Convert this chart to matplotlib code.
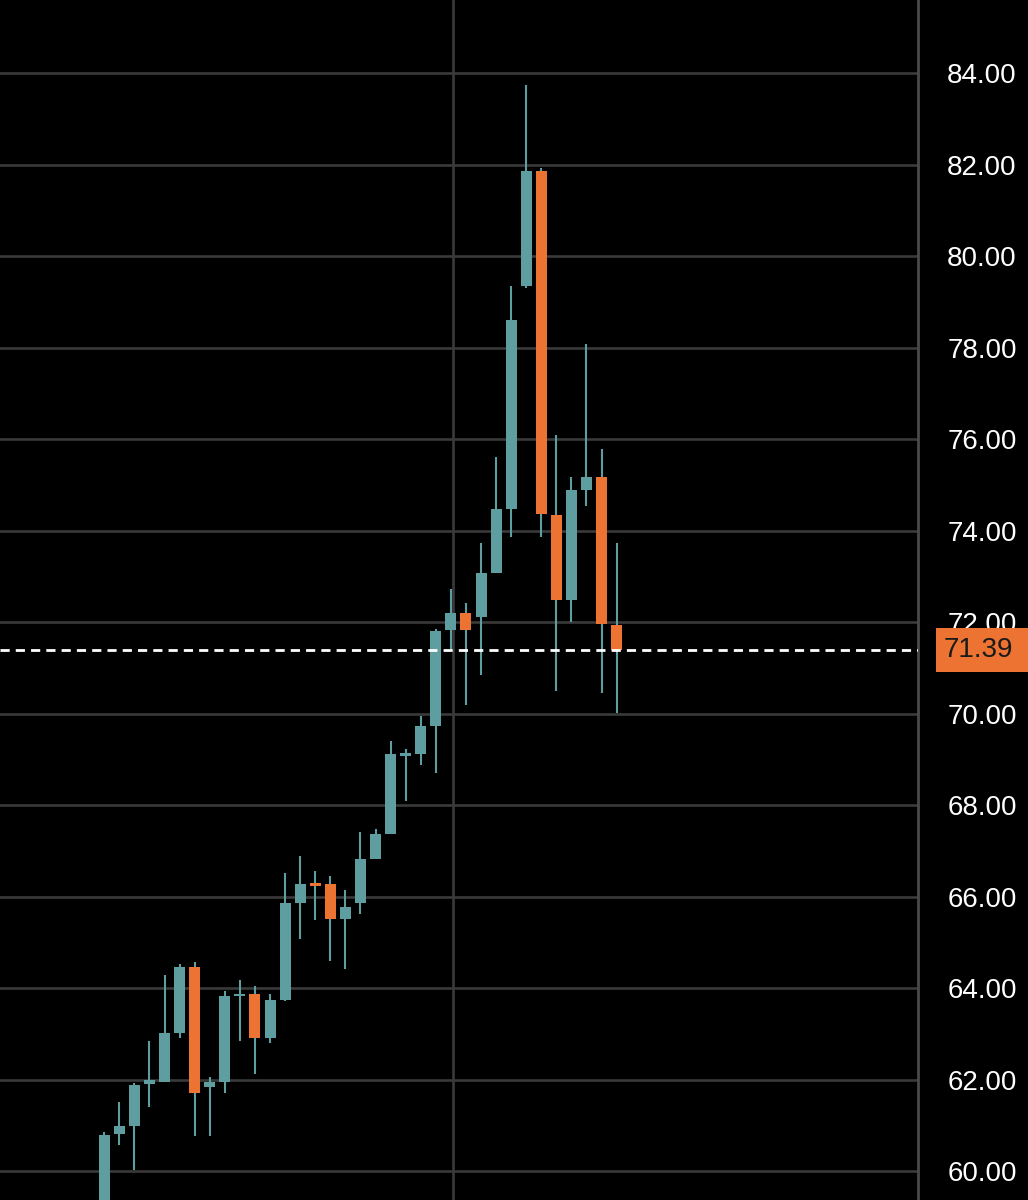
import numpy as np
import matplotlib
matplotlib.use("Agg")
import matplotlib.pyplot as plt
from matplotlib.transforms import blended_transform_factory
from matplotlib.patches import Rectangle
from matplotlib.ticker import FormatStrFormatter, MultipleLocator

opens = [58.50, 60.81, 60.99, 61.90, 61.95, 63.03, 64.47, 61.84, 61.95, 63.82,
         63.88, 62.91, 63.74, 65.86, 66.28, 66.28, 65.51, 65.86, 66.83, 67.37,
         69.08, 69.12, 69.72, 71.82, 72.19, 72.12, 73.08, 74.47, 79.35, 81.86,
         74.34, 72.49, 74.89, 75.18, 71.94]
highs = [60.85, 61.52, 61.92, 62.85, 64.29, 64.52, 64.58, 62.05, 63.93, 64.18,
         64.05, 63.87, 66.51, 66.88, 66.57, 66.45, 66.15, 67.42, 67.48, 69.40,
         69.23, 69.95, 71.85, 72.72, 72.43, 73.74, 75.60, 79.34, 83.74, 81.92,
         76.09, 75.18, 78.08, 75.78, 73.74]
lows = [58.00, 60.57, 60.03, 61.41, 61.95, 62.91, 60.76, 60.76, 61.70, 62.85,
        62.13, 62.80, 63.71, 65.07, 65.49, 64.60, 64.42, 65.62, 66.83, 67.37,
        68.10, 68.87, 68.70, 71.41, 70.19, 70.85, 73.08, 73.87, 79.30, 73.87,
        70.50, 72.00, 74.54, 70.45, 70.01]
closes = [60.79, 60.98, 61.89, 62.00, 63.03, 64.47, 61.70, 61.95, 63.82, 63.88,
          62.92, 63.74, 65.86, 66.28, 66.24, 65.51, 65.78, 66.82, 67.37, 69.11,
          69.11, 69.72, 71.81, 72.19, 71.82, 73.07, 74.47, 78.61, 81.86, 74.36,
          72.49, 74.89, 75.18, 71.96, 71.39]
last_price = 71.39
y_ticks = [60, 62, 64, 66, 68, 70, 72, 74, 76, 78, 80, 82, 84]

TEAL = "#5e9ea0"
ORANGE = "#ec7332"
GRID = "#3a3a3a"

o = np.array(opens); h = np.array(highs); l = np.array(lows); c = np.array(closes)
x = np.arange(len(o))
up = c >= o

fig = plt.figure(figsize=(10.28, 12), dpi=100, facecolor="black")
ax = fig.add_axes([0, 0, 918 / 1028, 1])
ax.set_facecolor("black")

ax.set_xlim(-6.92, 54.0)
ax.set_ylim(59.37, 85.60)

ax.yaxis.set_major_locator(MultipleLocator(2))
ax.yaxis.set_major_formatter(FormatStrFormatter("%.2f"))
ax.set_yticks(y_ticks)
ax.yaxis.tick_right()
ax.tick_params(axis="y", length=0, pad=21, labelsize=20, colors="white")
ax.tick_params(axis="x", length=0, labelbottom=False)
for lab in ax.get_yticklabels():
    lab.set_fontfamily(["Liberation Sans", "DejaVu Sans"])

for s in ["top", "bottom", "left"]:
    ax.spines[s].set_visible(False)
ax.spines["right"].set_color("#4a4a4a")
ax.spines["right"].set_linewidth(2)

for yv in y_ticks:
    ax.axhline(yv, color=GRID, lw=1.9, zorder=0)
ax.axvline(23.14, color=GRID, lw=1.9, zorder=0)

# wicks
ax.vlines(x, l, h, color=TEAL, lw=1.5, zorder=2)
# bodies
body_h = np.maximum(np.abs(c - o), 0.06)
body_b = np.minimum(o, c)
colors = [TEAL if u else ORANGE for u in up]
ax.bar(x, body_h, bottom=body_b, width=0.73, color=colors, zorder=3, linewidth=0)

# last price line
ax.axhline(last_price, color="white", lw=2, ls=(0, (3.3, 2.2)), zorder=4)

trans = blended_transform_factory(fig.transFigure, ax.transData)
box_h = 44 / 45.75
rect = Rectangle((936 / 1028, last_price - box_h / 2), 1 - 936 / 1028, box_h,
                 transform=trans, facecolor=ORANGE, edgecolor="none",
                 clip_on=False, zorder=5)
fig.patches.append(rect)
fig.text(978.5 / 1028, last_price, f"{last_price:.2f}", transform=trans,
         ha="center", va="center", fontsize=20, color="#1a1a1a",
         family=["Liberation Sans", "DejaVu Sans"], zorder=6)

fig.savefig("out.png", dpi=100, facecolor="black")
